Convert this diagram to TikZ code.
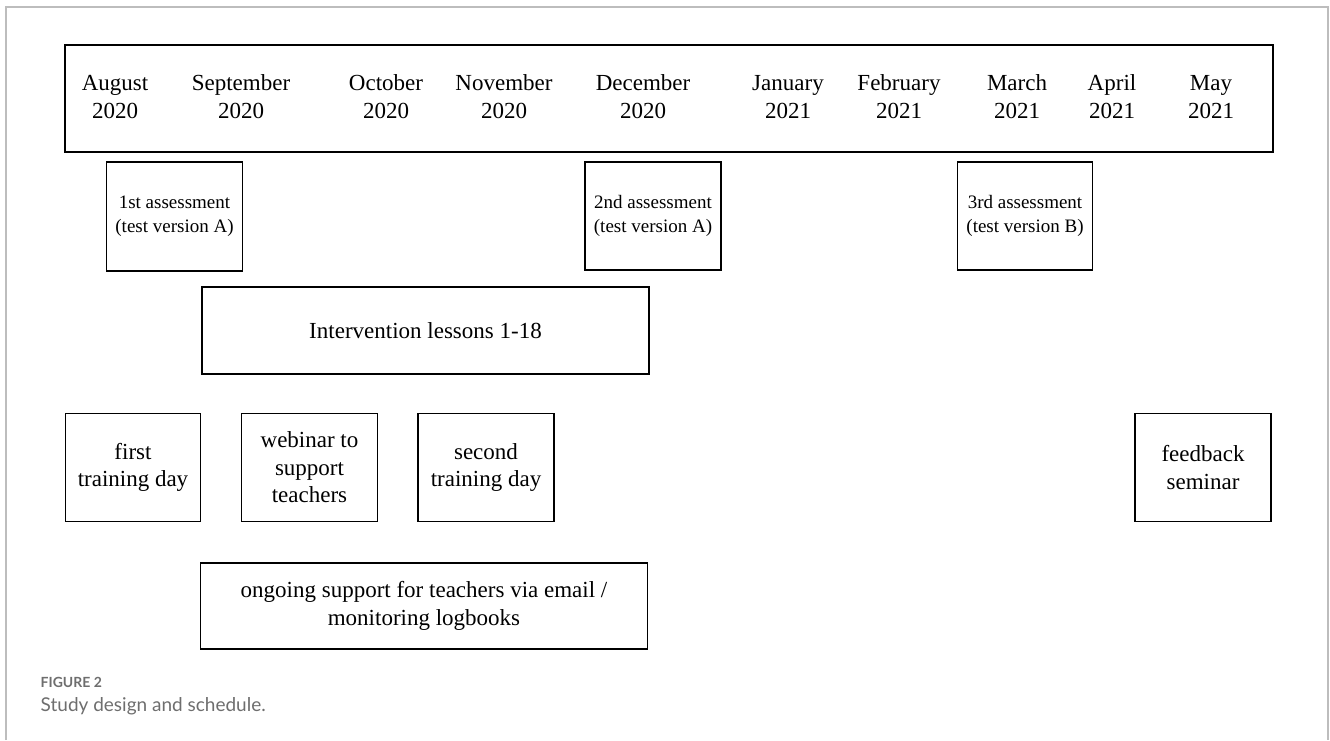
\documentclass[tikz,border=0pt]{standalone}
\usepackage{fontspec}
\setmainfont{Liberation Serif}
\newfontfamily\capfont{Lato}
\definecolor{framegray}{HTML}{BDBDBD}
\definecolor{capgray}{HTML}{6E6E6E}
\tikzset{
  box/.style={draw, line width=1.4pt, align=center, inner sep=0pt},
  month/.style={align=center, font=\fontsize{23}{28}\selectfont},
  big/.style={font=\fontsize{23}{27.5}\selectfont},
  small/.style={font=\fontsize{19}{24}\selectfont},
}
\begin{document}
\begin{tikzpicture}[x=1pt,y=-1pt]
 \useasboundingbox (0,0) rectangle (1330,740);
 % outer frame of the figure
 \draw[framegray,line width=1.2pt] (6,740) -- (6,7) -- (1328,7) -- (1328,740);
 % time line
 \node[box,minimum width=1208pt,minimum height=107pt] (timeline) at (669,98.5) {};
 \node[month] (aug) at (115,97) {August\\2020};
 \node[month] (sep) at (241,97) {September\\2020};
 \node[month] (oct) at (386,97) {October\\2020};
 \node[month] (nov) at (504,97) {November\\2020};
 \node[month] (dec) at (643,97) {December\\2020};
 \node[month] (jan) at (788,97) {January\\2021};
 \node[month] (feb) at (899,97) {February\\2021};
 \node[month] (mar) at (1017,97) {March\\2021};
 \node[month] (apr) at (1112,97) {April\\2021};
 \node[month] (may) at (1211,97) {May\\2021};
 % assessments
 \node[box,small,minimum width=136pt,minimum height=109pt] (assessA) at (174.5,216.5) {1st assessment\\(test version A)};
 \node[box,small,minimum width=136pt,minimum height=108pt] (assessB) at (653,216) {2nd assessment\\(test version A)};
 \node[box,small,minimum width=135pt,minimum height=108pt] (assessC) at (1025,216) {3rd assessment\\(test version B)};
 % lessons
 \node[box,big,minimum width=447pt,minimum height=87pt] (lessons) at (425.5,330.5) {Intervention lessons 1-18};
 % teacher training
 \node[box,big,minimum width=135pt,minimum height=108pt] (trainA) at (133,467.5) {first\\training day};
 \node[box,big,minimum width=136pt,minimum height=108pt] (webinar) at (309.5,467.5) {webinar to\\support\\teachers};
 \node[box,big,minimum width=136pt,minimum height=108pt] (trainB) at (486,467.5) {second\\training day};
 \node[box,big,minimum width=136pt,minimum height=108pt] (feedback) at (1203,467.5) {feedback\\seminar};
 \node[box,big,minimum width=447pt,minimum height=86pt] (support) at (424,606) {ongoing support for teachers via email /\\monitoring logbooks};
 % caption
 \node[anchor=base west,inner sep=0pt,capgray,font=\capfont\bfseries\fontsize{14}{17}\selectfont] (figlabel) at (40.5,687) {FIGURE 2};
 \node[anchor=base west,inner sep=0pt,capgray,font=\capfont\fontsize{19}{23}\selectfont] (figtitle) at (40.5,711.5) {Study design and schedule.};
\end{tikzpicture}
\end{document}
